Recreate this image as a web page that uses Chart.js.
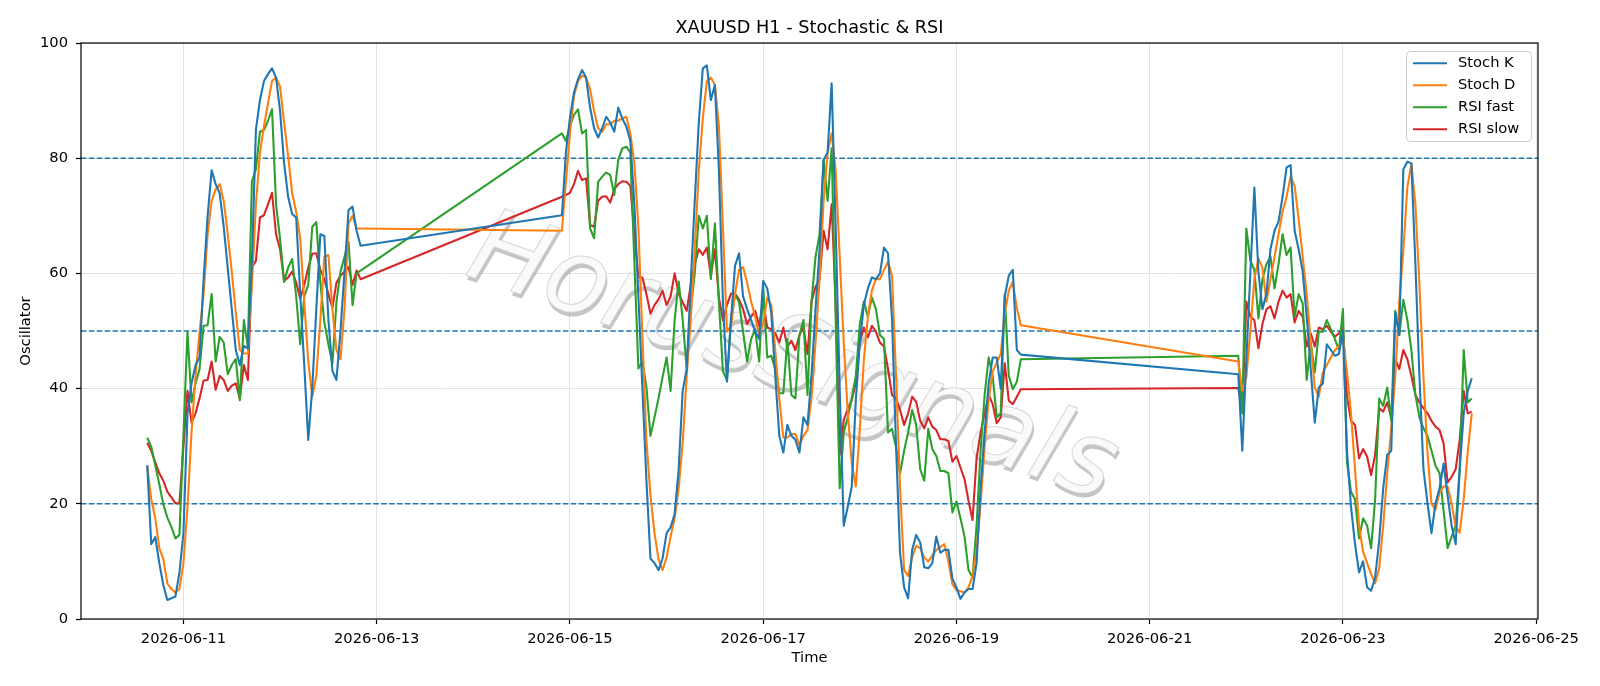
<!DOCTYPE html>
<html>
<head>
<meta charset="utf-8">
<script src="https://cdn.jsdelivr.net/npm/chart.js@4.4.1/dist/chart.umd.min.js"></script>
<style>
html,body{margin:0;padding:0;background:#fff;}
#wrap{width:1600px;height:686px;position:relative;}
</style>
</head>
<body>
<div id="wrap"><canvas id="c" width="1600" height="686"></canvas></div>
<script>
// ---- data (hourly bars, three trading sessions) ----
const sessionStarts = ['2026-06-10T15:00:00Z', '2026-06-14T22:00:00Z', '2026-06-21T22:00:00Z'];
const sessionHours = [54, 115, 59];
const tickDates = ['2026-06-11','2026-06-13','2026-06-15','2026-06-17','2026-06-19','2026-06-21','2026-06-23','2026-06-25'];
const yTicks = [0, 20, 40, 60, 80, 100];
const refLevels = [80, 50, 20];
const seriesNames = ['Stoch K', 'Stoch D', 'RSI fast', 'RSI slow'];

const stochK = [
  26.7,13.0,14.2,9.7,5.9,3.3,3.6,3.9,8,15, 35.7,40.9,44.1,45.4,59,70,77.9,75.5,73.9,68.1,
  60.9,53.8,46.7,44.1,47.4,47,62,85,90.1,93.4, 94.6,95.6,94,88.2,79.1,73.3,70.3,69.7,56.4,44.1,
  31.1,40.2,53.8,66.8,66.5,52,43.1,41.5,50,60.3, 71,71.6,67.4,64.8,
  70.1,81,87,91.4,93.7,95.3,94,88.8,85.2,83.6, 85.2,87.2,86.2,84.6,88.8,86.9,85.5,83,72,56,
  40,24,10.5,9.7,8.5,10.5,14.9,15.9,18.2,25.9, 39.6,43.4,58.4,72.6,86.2,95.6,96.1,90.1,92.7,78,
  55,41.2,52,61.3,63.5,56,53.8,51.9,49.9,48.6, 58.7,57.4,53.2,42.2,31.8,28.9,33.7,31.8,31.1,28.9,
  35,33.7,42.2,53.8,64.2,79.7,81,93,68,40, 16.2,19.5,23,38,48,54.5,57.4,59.3,59,60,
  64.5,63.5,52,30,11.4,5.5,3.6,12,14.6,13.3, 9,8.8,9.7,14.3,11.5,12,12,7,5.5,3.5,
  4.6,5.2,5.2,9.7,22.7,32.4,40.9,45.4,45.4,40, 56,59.6,60.6,46.7,45.9,
  42.5,29.2,45,60,74.9,60.3,53.8,56.4,64.2,67.4, 69,73.3,78.4,78.8,67.4,64.2,60.3,52.5,43.4,34.1,
  40.2,40.9,47.7,46.7,45.7,46,50,29.2,19.5,13, 8.1,10,5.5,4.9,7.2,13.6,22.7,28.5,29.2,53.2,
  49.3,78.1,79.4,79.1,61.6,42.2,26,20.1,14.9,20.1, 22.7,27,21.4,16.2,13,26,35.7,39.6,41.8
];
const stochD = [
  26.6,20.8,17.5,12.3,10.4,6.2,5.2,4.6,5.2,9.7, 19.4,32.4,42.2,49.9,56.4,66.8,72.6,74.6,75.5,72.6,
  66.8,60.3,53.2,46.7,46.1,46.1,58,72,81,85.6, 89.5,93.4,94,92.4,86.2,80.4,73.9,70.7,66.1,55.1,
  44.7,38.6,42.2,51.9,62.9,63.2,53.8,46.7,45.1,53.8, 68.7,70,67.8,67.8,
  67.4,75.9,84.3,90.8,93.4,94.3,94,92,88.2,85.2, 84.6,85.9,85.9,86.5,86.5,86.9,87.2,84.3,79.1,68,
  49,31,21.4,14.9,10.4,8.5,10.7,14.3,17.5,22.7, 30.5,42.2,51.9,64.2,77.8,86.9,93.4,94,92.7,85.6,
  68.1,49.9,50.9,56.4,60.6,61.1,58.4,55.1,52.5,49.3, 51.2,55.8,54.5,46.7,38.3,31.5,31.5,32.1,32.1,30.2,
  31.8,32.8,38.3,48,59,72.6,81,84.3,78,63, 48,36,27,23,33,45,52.5,57,59,59,
  60.6,62,59.6,42.2,22.7,8.5,7.5,10.7,12.7,12.3, 10.7,10,11,12,12.5,13,10,6,5,4.8,
  4.6,5.5,7.5,12,20,30,38,43,44.5,46, 53,57,58.5,54,51,
  44.7,39.6,42,50,59,62.6,61,55.1,59,62.9, 66.8,70.7,73.3,76.8,75.2,69.4,62.9,56.4,48,40.2,
  38.6,42.8,44.1,45.4,46.7,47.3,49,43,35.7,26, 16.2,11.7,9.7,7.8,6.2,8.8,16.2,25.3,33.1,42.2,
  55.1,64,75,79,72,58,42,29,20,19, 22,23,23,20,16,15,20.8,29,35.7
];
const rsiFast = [
  31.5,29.9,26.7,23.4,19.9,17.6,16,14,14.6,32, 49.9,37.6,40.9,43.4,50.9,51,56.4,44.7,49,48,
  42.5,44.1,45.1,38,51.9,47.3,75.9,78.1,84.6,84.9, 86.5,88.5,72,66,58.5,61,62.5,56,47.7,56,
  58,68.1,68.9,58.4,51.5,47.7,44.4,55,60.3,62.9, 65.5,54.5,60,60.5,
  84.3,83,85.6,87.5,88.5,84.3,84.9,67.8,66.1,75.9, 76.8,77.5,77.1,73.6,79.7,81.7,82,81,62,43.5,
  44.7,40.2,31.8,35,38.3,42,45.4,39.6,51.9,58.6, 52,43.4,53.8,60,70,67.8,70,59,68.7,55.1,
  43,41.5,52,56.4,55,49.9,44.7,48.6,50.3,44.7, 57.7,45.4,45.7,43.4,39.2,39.2,48.6,38.9,38.3,49.3,
  51.9,38.9,55.1,62.9,66.8,79.7,72.6,81.7,52,22.7, 32.4,35,38.3,42.2,51.2,55.1,52.5,55.8,53.8,49.3,
  48.6,32.4,33,29.8,25.3,29.2,32.4,36.3,33.7,26, 24,33,29.5,28.3,25.7,25.7,25.3,18.5,20.4,17.5,
  14.3,8.5,7.2,16.2,29.2,38.9,45.4,42.2,35,35.7, 56.4,42.2,39.9,41.2,45.1,
  45.7,35.7,67.8,62.2,60.6,52.2,59,61.6,62.9,57.4, 61.6,66.8,63.2,64.5,52.5,56.4,54.8,41.5,48,42.8,
  49.9,49.9,51.9,50.3,48.6,46.7,53.8,27.2,22.1,20.8, 14,17.5,16.2,12.3,20.8,38.3,37,40.2,34.4,53.5,
  49.3,55.4,51.9,46.7,38.9,35,33.1,31.8,29.2,26.6, 25.3,18.8,12.3,14.3,16.2,26,46.7,37.6,38.3
];
const rsiSlow = [
  30.6,29.2,27.2,25.3,24,22.1,21.1,20.1,20.1,30, 39.6,34.1,35.7,38.3,41.4,41.5,44.7,39.8,42.2,41.5,
  39.6,40.5,40.9,38.3,44.1,41.5,61,62.2,69.7,70.1, 72,74,66.8,64.2,58.7,59.3,60.3,58.4,55.6,58,
  61,63.4,63.5,60.6,59,56.4,54,58.4,59.6,60.3, 61.1,58,60.5,59,
  73.3,73.6,74,75.5,77.8,76.2,76.5,68.4,68.1,72.6, 73.3,73.4,72.3,74.6,75.5,76,75.9,75.2,66.8,59.3,
  59.3,56.4,53,54.5,55.5,57,54.5,56,60,56.5, 55,53.5,58,61.6,64.2,63.2,64.5,59.6,64.2,55.8,
  51.9,54.5,56.5,56.5,55.5,53.8,51.2,52.5,53.5,50.9, 55.1,50.6,50.3,49.6,48,50.6,47.3,48.3,46.7,49.3,
  50.6,46,55.1,57.7,59,67.4,64.2,72,55,28.5, 34.5,36.5,38,41,48,50.6,48.9,50.9,49.9,48,
  47.3,43.4,38.9,38.3,36.3,33.7,35.7,38.6,37.7,34.4, 33.1,35,33.4,32.8,31.2,31.2,30.9,27.3,28.3,26.3,
  24.3,20.5,17.2,27.9,32.4,35.7,38.9,37.3,34,35, 44.4,37.9,37.3,38.6,39.9,
  40.1,36,55.1,52.5,51.9,47,51.2,53.8,54.3,52.2, 55.1,57,55.8,56.4,51.5,53.5,52.5,47.3,49.6,47.3,
  50.6,50.3,50.9,49.9,49,49.6,50.6,38.6,34.4,33.7, 27.9,29.5,28.2,25,28.5,36.6,36,37.6,35,45.1,
  43.4,46.7,45.1,42.2,38.9,37.6,36.6,35.7,34.4,33.4, 32.8,30.5,23.7,24.7,26,31.1,39.6,35.7,36
];

// ---- build chart ----
const HOUR = 3600000;
const times = [];
sessionStarts.forEach((s, i) => {
  const t0 = Date.parse(s);
  for (let k = 0; k < sessionHours[i]; k++) times.push(t0 + k * HOUR);
});
const tFirst = times[0], tLast = times[times.length - 1];
const xMin = tFirst - 0.05 * (tLast - tFirst);
const xMax = tLast + 0.05 * (tLast - tFirst);

const colors = ['#1f77b4', '#ff7f0e', '#2ca02c', '#d62728'];
const allSeries = [stochK, stochD, rsiFast, rsiSlow];
const FONT = '"DejaVu Sans", "Liberation Sans", sans-serif';

const datasets = allSeries.map((arr, si) => ({
  label: seriesNames[si],
  data: arr.map((v, i) => ({ x: times[i], y: v })),
  borderColor: colors[si],
  backgroundColor: colors[si],
  borderWidth: 2.1,
  pointRadius: 0,
  tension: 0,
  fill: false,
  borderJoinStyle: 'round',
  borderCapStyle: 'butt'
}));

const decor = {
  id: 'decor',
  beforeDatasetsDraw(chart) {
    const { ctx, chartArea: a, scales: { y } } = chart;
    ctx.save();
    ctx.beginPath();
    ctx.rect(a.left, a.top, a.right - a.left, a.bottom - a.top);
    ctx.clip();
    // watermark: light face over an offset grey shadow
    ctx.save();
    ctx.translate(792, 362);
    ctx.rotate(19.5 * Math.PI / 180);
    ctx.font = 'italic 104px ' + FONT;
    ctx.textAlign = 'center';
    ctx.textBaseline = 'middle';
    ctx.fillStyle = 'rgba(150,150,150,0.55)';
    ctx.fillText('HorusSignals', 2.5, 3.5);
    ctx.fillStyle = '#fafafa';
    ctx.fillText('HorusSignals', 0, 0);
    ctx.strokeStyle = 'rgba(200,200,200,0.7)';
    ctx.lineWidth = 1;
    ctx.strokeText('HorusSignals', 0, 0);
    ctx.restore();
    // reference levels
    ctx.strokeStyle = '#1f77b4';
    ctx.lineWidth = 1.5;
    ctx.setLineDash([5.5, 2.4]);
    refLevels.forEach(v => {
      const py = y.getPixelForValue(v);
      ctx.beginPath();
      ctx.moveTo(a.left, py);
      ctx.lineTo(a.right, py);
      ctx.stroke();
    });
    ctx.restore();
  },
  afterDraw(chart) {
    const { ctx, chartArea: a } = chart;
    ctx.save();
    // frame
    ctx.strokeStyle = '#000';
    ctx.lineWidth = 1.2;
    ctx.strokeRect(a.left, a.top, a.right - a.left, a.bottom - a.top);
    // title & axis titles
    ctx.fillStyle = '#000';
    ctx.textAlign = 'center';
    ctx.textBaseline = 'middle';
    ctx.font = '17.7px ' + FONT;
    ctx.fillText('XAUUSD H1 - Stochastic & RSI', (a.left + a.right) / 2, 28);
    ctx.font = '14.7px ' + FONT;
    ctx.fillText('Time', (a.left + a.right) / 2, 658);
    ctx.save();
    ctx.translate(26, (a.top + a.bottom) / 2);
    ctx.rotate(-Math.PI / 2);
    ctx.fillText('Oscillator', 0, 0);
    ctx.restore();
    // legend
    const bx = 1406, by = 51, bw = 125, bh = 90;
    ctx.fillStyle = 'rgba(255,255,255,0.8)';
    ctx.strokeStyle = '#cccccc';
    ctx.lineWidth = 1;
    ctx.beginPath();
    ctx.roundRect(bx + 0.5, by + 0.5, bw, bh, 4);
    ctx.fill();
    ctx.stroke();
    ctx.font = '14.7px ' + FONT;
    ctx.textAlign = 'left';
    chart.data.datasets.forEach((ds, i) => {
      const yy = 63.3 + i * 22;
      ctx.strokeStyle = ds.borderColor;
      ctx.lineWidth = 2.1;
      ctx.beginPath();
      ctx.moveTo(1413, yy);
      ctx.lineTo(1447, yy);
      ctx.stroke();
      ctx.fillStyle = '#000';
      ctx.fillText(ds.label, 1458, yy);
    });
    ctx.restore();
  }
};

new Chart(document.getElementById('c'), {
  type: 'line',
  data: { datasets },
  plugins: [decor],
  options: {
    responsive: false,
    animation: false,
    devicePixelRatio: 1,
    parsing: false,
    normalized: true,
    layout: { padding: { top: 43, right: 62, left: 0, bottom: 0 } },
    plugins: { legend: { display: false }, title: { display: false }, tooltip: { enabled: false } },
    scales: {
      x: {
        type: 'linear',
        min: xMin,
        max: xMax,
        afterBuildTicks: s => { s.ticks = tickDates.map(d => ({ value: Date.parse(d + 'T00:00:00Z') })); },
        afterFit: s => { s.height = 67; },
        ticks: {
          autoSkip: false, maxRotation: 0, minRotation: 0, padding: 6,
          color: '#000', font: { family: FONT, size: 14.7 },
          callback: v => new Date(v).toISOString().slice(0, 10)
        },
        grid: { color: '#e3e3e3', lineWidth: 1, tickColor: '#000', tickLength: 5, tickWidth: 1.2 },
        border: { display: false }
      },
      y: {
        type: 'linear',
        min: 0,
        max: 100,
        afterBuildTicks: s => { s.ticks = yTicks.map(v => ({ value: v })); },
        afterFit: s => { s.width = 81; },
        ticks: { padding: 8, color: '#000', font: { family: FONT, size: 14.7 } },
        grid: { color: '#e3e3e3', lineWidth: 1, tickColor: '#000', tickLength: 5, tickWidth: 1.2 },
        border: { display: false }
      }
    }
  }
});
</script>
</body>
</html>
